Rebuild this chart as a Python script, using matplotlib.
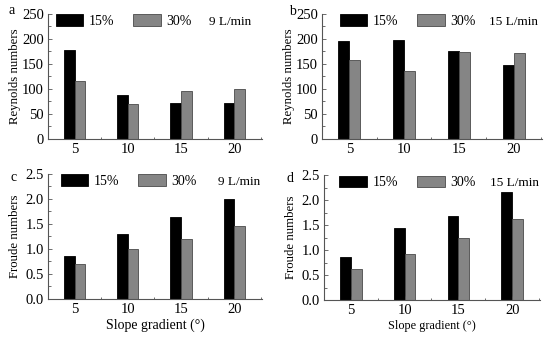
import matplotlib
matplotlib.use("Agg")
import matplotlib.pyplot as plt
import numpy as np
from matplotlib.ticker import MultipleLocator, FormatStrFormatter

plt.rcParams["font.family"] = ["Liberation Serif", "DejaVu Serif"]

slopes = [5, 10, 15, 20]
series_names = ["15%", "30%"]

re_9 = {"15%": [178, 88, 72, 71], "30%": [115, 70, 96, 99]}
re_15 = {"15%": [195, 198, 175, 147], "30%": [158, 136, 174, 172]}
fr_9 = {"15%": [0.85, 1.29, 1.64, 1.99], "30%": [0.69, 0.99, 1.19, 1.45]}
fr_15 = {"15%": [0.87, 1.44, 1.69, 2.17], "30%": [0.62, 0.93, 1.25, 1.62]}

# tag, data, flow label, y label, ymax, ystep, axes rect, tag pos, flow x, legend x
panels = [
    ("a", re_9, "9 L/min", "Reynolds numbers", 250, 50,
     [0.0873, 0.5888, 0.389, 0.370], (-0.168, 1.03), 0.949, 0.01),
    ("b", re_15, "15 L/min", "Reynolds numbers", 250, 50,
     [0.5855, 0.5888, 0.400, 0.370], (-0.136, 1.02), 0.982, 0.055),
    ("c", fr_9, "9 L/min", "Froude numbers", 2.5, 0.5,
     [0.0873, 0.1154, 0.389, 0.370], (-0.159, 0.97), 0.99, 0.033),
    ("d", fr_15, "15 L/min", "Froude numbers", 2.5, 0.5,
     [0.589, 0.112, 0.393, 0.370], (-0.157, 0.97), 0.995, 0.046),
]

colours = {"15%": "#000000", "30%": "#858585"}
edges = {"15%": "#000000", "30%": "#4a4a4a"}
offsets = {"15%": -0.5, "30%": 0.5}

fig = plt.figure(figsize=(5.5, 3.38), dpi=100)

for tag, data, flow, ylabel, ymax, ystep, rect, tpos, fx, lx in panels:
    ax = fig.add_axes(rect)
    x = np.array(slopes, dtype=float)
    for name in series_names:
        ax.bar(x + offsets[name], data[name], width=1.0,
               color=colours[name], edgecolor=edges[name],
               linewidth=0.6, label=name)
    ax.set_xlim(2.5, 22.6)
    ax.set_ylim(0, ymax)
    ax.set_xticks(slopes)
    ax.xaxis.set_minor_locator(MultipleLocator(2.5))
    ax.yaxis.set_major_locator(MultipleLocator(ystep))
    if ystep < 1:
        ax.yaxis.set_major_formatter(FormatStrFormatter("%.1f"))
    ax.yaxis.set_minor_locator(MultipleLocator(ystep / 2))
    for s in ("top", "right"):
        ax.spines[s].set_visible(False)
    for s in ("left", "bottom"):
        ax.spines[s].set_color("#555555")
        ax.spines[s].set_linewidth(0.8)
    ax.tick_params(which="both", direction="in", colors="#555555",
                   labelcolor="black", labelsize=10.5, width=0.6)
    ax.tick_params(which="major", length=3, pad=3)
    ax.tick_params(which="minor", length=1.8)
    ax.set_ylabel(ylabel, fontsize=9.2)
    ax.yaxis.set_label_coords(-0.125, 0.5)
    if tag in ("c", "d"):
        ax.set_xlabel("Slope gradient (°)", fontsize=10 if tag == "c" else 8.8,
                      labelpad=2)
    ax.legend(loc="upper left", bbox_to_anchor=(lx, 1.04),
              ncol=2, frameon=False, fontsize=10, handlelength=2.0,
              handleheight=0.9, handletextpad=0.4, columnspacing=1.35,
              borderaxespad=0.0)
    ax.text(fx, 0.985, flow, transform=ax.transAxes, ha="right", va="top",
            fontsize=9.5)
    ax.text(tpos[0], tpos[1], tag, transform=ax.transAxes, ha="center",
            va="center", fontsize=10)

fig.savefig("out.png", dpi=100)
